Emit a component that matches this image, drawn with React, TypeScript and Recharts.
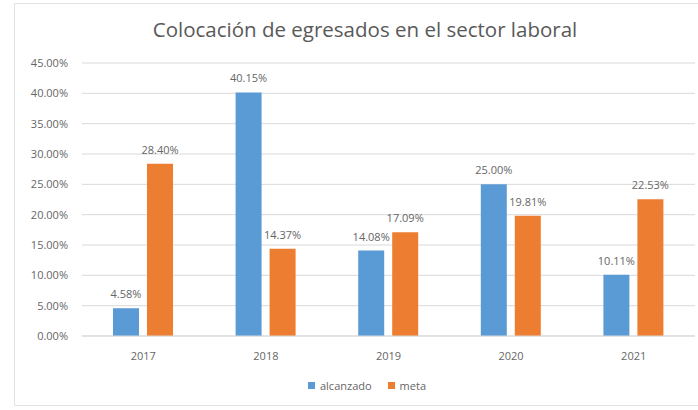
import React from 'react';
import { BarChart, Bar, XAxis, YAxis, CartesianGrid, LabelList } from 'recharts';

const years = ['2017', '2018', '2019', '2020', '2021'];
const alcanzado = [4.58, 40.15, 14.08, 25.0, 10.11];
const meta = [28.4, 14.37, 17.09, 19.81, 22.53];
const yTicks = [0, 5, 10, 15, 20, 25, 30, 35, 40, 45];
const seriesNames = ['alcanzado', 'meta'];

const BLUE = '#5B9BD5';
const ORANGE = '#ED7D31';
const TEXT = '#666666';
const FONT = '"Open Sans", "Noto Sans", sans-serif';

const data = years.map((year, i) => ({ year, alcanzado: alcanzado[i], meta: meta[i] }));

const pct = (v: number) => `${Number(v).toFixed(2)}%`;

const App: React.FC = () => {
  return (
    <div style={{ position: 'absolute', left: 0, top: 0, width: 698, height: 410, background: '#fff', fontFamily: FONT }}>
      <div
        style={{
          position: 'absolute', left: 14, top: 3, width: 684, height: 403,
          border: '1px solid #e3e3e3', borderRight: 'none', boxSizing: 'border-box',
        }}
      />
      <div
        style={{
          position: 'absolute', left: 0, top: 15, width: 730, textAlign: 'center',
          fontSize: 20.5, color: '#595959',
        }}
      >
        Colocación de egresados en el sector laboral
      </div>
      <BarChart
        width={698}
        height={410}
        data={data}
        margin={{ top: 63, right: 3, bottom: 44, left: 0 }}
        barGap={8}
        barSize={26}
        style={{ position: 'absolute', left: 0, top: 0 }}
      >
        <CartesianGrid vertical={false} stroke="#d9d9d9" />
        <XAxis
          dataKey="year"
          axisLine={{ stroke: '#d9d9d9' }}
          tickLine={false}
          tickMargin={10}
          height={30}
          tick={{ fill: TEXT, fontSize: 11, fontFamily: FONT }}
        />
        <YAxis
          domain={[0, 45]}
          ticks={yTicks}
          tickFormatter={pct}
          axisLine={false}
          tickLine={false}
          width={82}
          tickMargin={8}
          tick={{ fill: TEXT, fontSize: 11, fontFamily: FONT }}
        />
        <Bar dataKey="alcanzado" name={seriesNames[0]} fill={BLUE} isAnimationActive={false}>
          <LabelList dataKey="alcanzado" position="top" offset={10} formatter={(v: any) => pct(v)} style={{ fill: TEXT, fontSize: 11, fontFamily: FONT }} />
        </Bar>
        <Bar dataKey="meta" name={seriesNames[1]} fill={ORANGE} isAnimationActive={false}>
          <LabelList dataKey="meta" position="top" offset={10} formatter={(v: any) => pct(v)} style={{ fill: TEXT, fontSize: 11, fontFamily: FONT }} />
        </Bar>
      </BarChart>
      <div
        style={{
          position: 'absolute', left: 38, top: 378, width: 658, display: 'flex',
          justifyContent: 'center', alignItems: 'center', fontSize: 11, color: TEXT, gap: 16,
        }}
      >
        {seriesNames.map((name, i) => (
          <span key={name} style={{ display: 'flex', alignItems: 'center' }}>
            <span style={{ width: 7, height: 7, background: i === 0 ? BLUE : ORANGE, marginRight: 5, display: 'inline-block' }} />
            {name}
          </span>
        ))}
      </div>
    </div>
  );
};

export default App;
